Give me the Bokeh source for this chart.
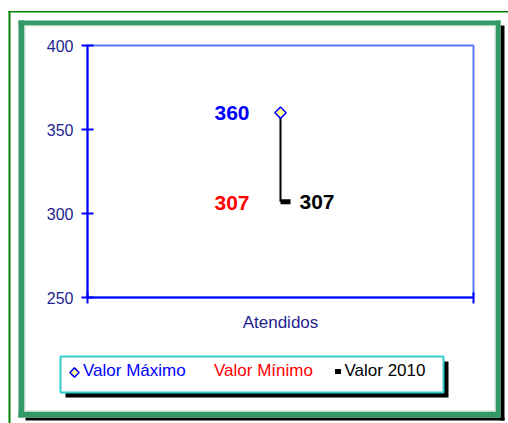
from bokeh.plotting import figure
from bokeh.models import (ColumnDataSource, Range1d, FixedTicker, LinearAxis,
                          BoxAnnotation, Legend, LegendItem)
from bokeh.transform import dodge
from bokeh.core.properties import value
from bokeh.embed import file_html
from bokeh.resources import INLINE

# ---- data ----
categories = ["Atendidos"]
valor_maximo = [360]
valor_minimo = [307]
valor_2010 = [307]
y_ticks = [250, 300, 350, 400]
series_names = ["Valor Máximo", "Valor Mínimo", "Valor 2010"]

# category slots: category i occupies [i, i+1] on the x scale
cat_pos = [i + 0.5 for i in range(len(categories))]

src = ColumnDataSource(dict(
    x=cat_pos, hi=valor_maximo, lo=valor_minimo, v2010=valor_2010,
    hi_txt=[str(v) for v in valor_maximo],
    lo_txt=[str(v) for v in valor_minimo],
    v_txt=[str(v) for v in valor_2010],
))

W, H = 508, 423
FONT = "Liberation Sans"
NAVY = "#1f1f8f"

# plot-area placement on the canvas (pixels)
PL, PR, PT, PB = 87, 473, 45, 297
YMIN, YMAX = y_ticks[0], y_ticks[-1]
xs = (PR - PL) / len(categories)          # px per x unit
ys = (PB - PT) / (YMAX - YMIN)            # px per y unit
x_start = -PL / xs
x_end = (W - PL) / xs
y_end = YMAX + PT / ys
y_start = YMIN - (H - PB) / ys

def dx(px):
    return x_start + px / xs

def dy(py):
    return y_end - py / ys

p = figure(width=W, height=H,
           x_range=Range1d(x_start, x_end), y_range=Range1d(y_start, y_end),
           output_backend="svg", toolbar_location=None,
           x_axis_type=None, y_axis_type=None,
           min_border=0)
p.background_fill_color = "white"
p.border_fill_color = "white"
p.outline_line_color = None
p.xgrid.visible = False
p.ygrid.visible = False

# ---- decorations (underlay) ----
def box(l, t, r, b, fill, line=None, lw=0):
    p.add_layout(BoxAnnotation(
        left=dx(l), right=dx(r), top=dy(t), bottom=dy(b),
        fill_color=fill if fill else "white", fill_alpha=1 if fill else 0,
        line_color=line if line else "white", line_width=lw,
        line_alpha=1 if line else 0, level="underlay"))

GREEN = "#339966"
# thin outer green lines
box(8, 10.5, 508, 12, "#008000")
box(8, 10.5, 10, 423, "#008000")
# black shadow of thick frame
box(500, 25, 504, 420, "black")
box(25, 417, 504, 420, "black")
# thick green frame
box(18, 20, 500, 25, GREEN)
box(18, 411, 500, 417, GREEN)
box(18, 20, 24, 417, GREEN)
box(495, 20, 500, 417, GREEN)
# light inner edge
box(24, 25, 495, 26, "#cfe3d9")
box(24, 410, 495, 411, "#cfe3d9")
box(24, 25, 25, 411, "#cfe3d9")
box(494, 25, 495, 411, "#cfe3d9")
# plot-area border (top/right visible; left/bottom under axes)
box(PL, PT, PR, PB, None, "#5a78ff", 2)
# legend box and shadow
box(65, 361, 448, 397, "black")
box(60, 356, 443, 392, "white", "#33cccc", 2)

# ---- axes ----
yax = LinearAxis(fixed_location=0, bounds=(YMIN, YMAX),
                 ticker=FixedTicker(ticks=y_ticks))
yax.axis_line_color = "#0000ff"
yax.axis_line_width = 2
yax.major_tick_line_color = "#0000ff"
yax.major_tick_line_width = 2
yax.major_tick_in = 6
yax.major_tick_out = 6
yax.minor_tick_line_color = None
yax.major_label_text_font = FONT
yax.major_label_text_font_size = "16px"
yax.major_label_text_color = NAVY
yax.major_label_standoff = 8
p.add_layout(yax, "left")

# bottom axis line with ticks at category boundaries
bounds_ticks = list(range(len(categories) + 1))
xax = LinearAxis(fixed_location=YMIN, bounds=(0, len(categories)),
                 ticker=FixedTicker(ticks=bounds_ticks))
xax.axis_line_color = "#0000ff"
xax.axis_line_width = 2
xax.major_tick_line_color = "#0000ff"
xax.major_tick_line_width = 2
xax.major_tick_in = 5
xax.major_tick_out = 6
xax.minor_tick_line_color = None
xax.major_label_text_alpha = 0
xax.major_label_text_font_size = "1px"
p.add_layout(xax, "below")

# category labels
cax = LinearAxis(fixed_location=YMIN, bounds=(0, len(categories)),
                 ticker=FixedTicker(ticks=cat_pos),
                 major_label_overrides={cp: c for cp, c in zip(cat_pos, categories)})
cax.axis_line_color = None
cax.major_tick_line_color = None
cax.minor_tick_line_color = None
cax.major_tick_in = 0
cax.major_tick_out = 0
cax.major_label_text_font = FONT
cax.major_label_text_font_size = "17px"
cax.major_label_text_color = NAVY
cax.major_label_standoff = 15
p.add_layout(cax, "below")

# ---- marks ----
p.segment(x0="x", y0="lo", x1="x", y1="hi", source=src,
          line_color="black", line_width=2)
DIAMOND = dict(marker="square", angle=0.785398, fill_color="#ffff99",
               line_color="#0000ff", line_width=1.5)
r_max = p.scatter(x="x", y="hi", source=src, size=8, **DIAMOND)
r_max_blank = p.scatter(x="x", y="hi", source=src, marker="circle", size=1,
                        fill_alpha=0, line_alpha=0)
r_min = p.scatter(x="x", y="lo", source=src, marker="circle", size=1,
                  fill_alpha=0, line_alpha=0)
r_2010 = p.scatter(x=dodge("x", 5 / xs), y="v2010", source=src,
                   marker="dash", size=10, line_width=5, line_color="black")

LBL = dict(text_baseline="middle", text_font=value(FONT),
           text_font_style="bold", text_font_size="21px")
p.text(x="x", y="hi", text="hi_txt", source=src, x_offset=-31,
       text_align="right", text_color="#0000ff", **LBL)
p.text(x="x", y="lo", text="lo_txt", source=src, x_offset=-31, y_offset=1,
       text_align="right", text_color="#ff0000", **LBL)
p.text(x="x", y="v2010", text="v_txt", source=src, x_offset=19,
       text_align="left", text_color="black", **LBL)

# ---- legends ----
def leg(name, rend, loc, color, gw, standoff):
    lg = Legend(items=[LegendItem(label=name, renderers=[rend])],
                location=loc, orientation="horizontal",
                padding=0, margin=0, spacing=0,
                glyph_width=gw, glyph_height=18, label_height=18,
                label_standoff=standoff,
                label_text_font=FONT, label_text_font_size="17px",
                label_text_color=color,
                border_line_color=None, background_fill_alpha=0)
    p.add_layout(lg, "center")

LEG_Y = H - 380.5
leg(series_names[0], r_max_blank, (66, LEG_Y), "#0000ff", 16, 1)
leg(series_names[1], r_min, (196, LEG_Y), "#ff0000", 16, 2)
leg(series_names[2], r_2010, (329.5, LEG_Y), "black", 15, 0)
# diamond key of "Valor Máximo" (legend glyphs are drawn unrotated)
p.scatter(x=[dx(74)], y=[dy(372)], size=6.5, **DIAMOND)

open("out.html", "w").write(file_html(p, INLINE))
